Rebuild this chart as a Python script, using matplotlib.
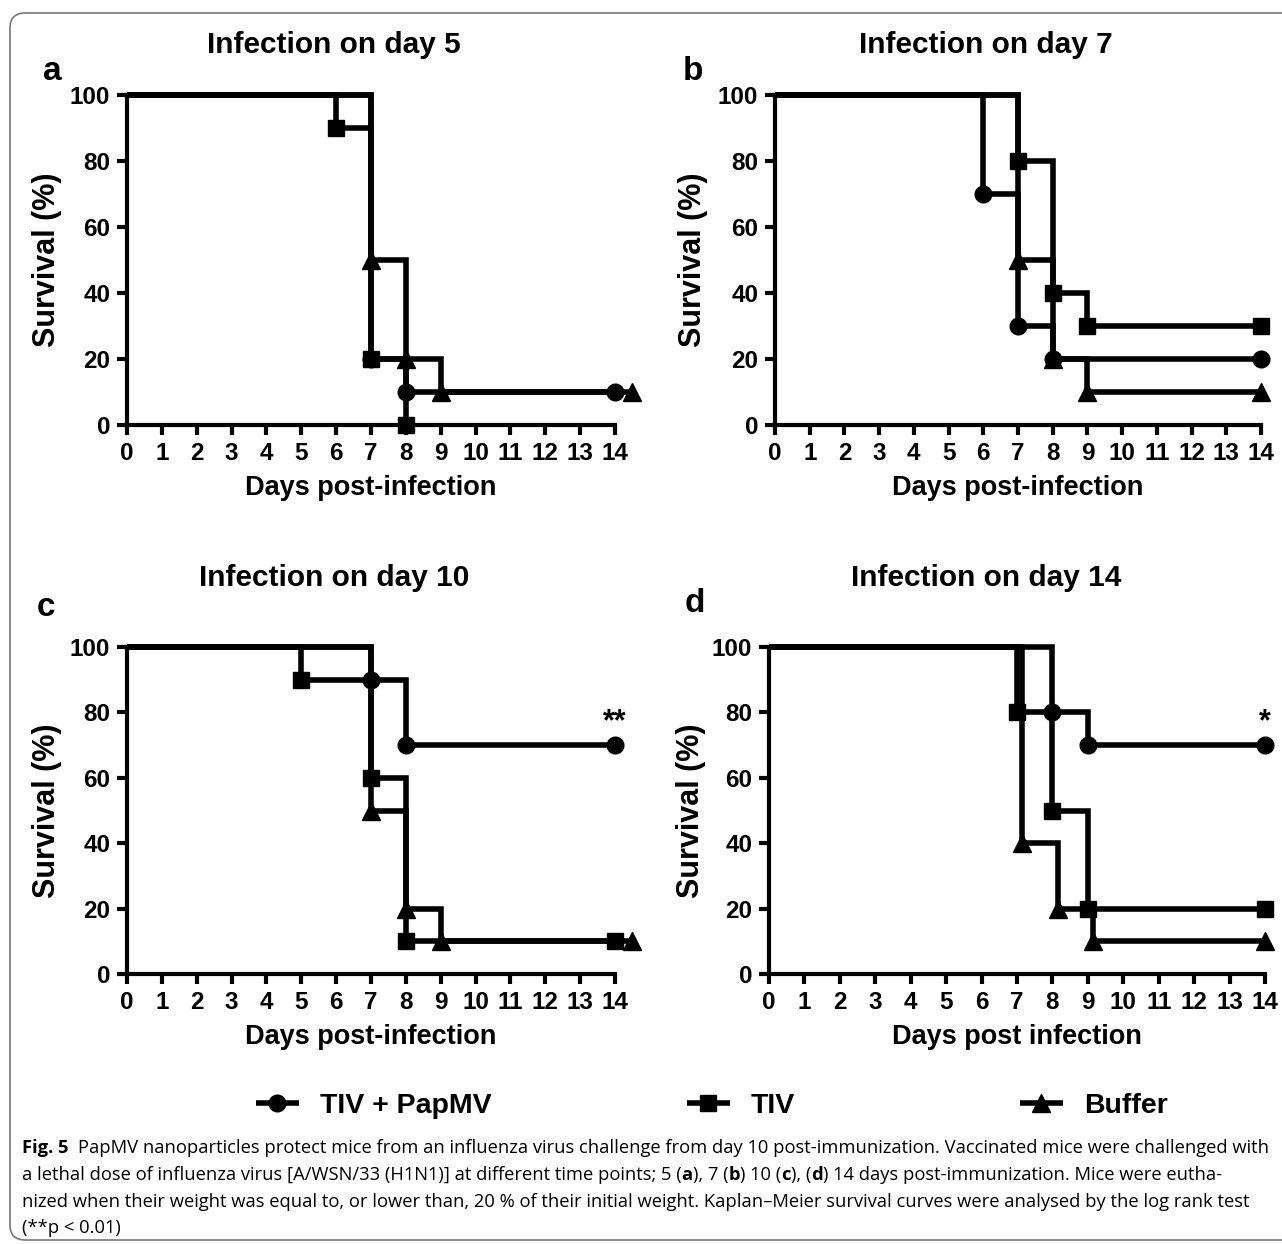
import numpy as np

import matplotlib
matplotlib.use('Agg')
import matplotlib.pyplot as plt
from matplotlib.patches import FancyBboxPatch

# figure size in pixels (dpi 100)
W, H = 1282, 1244

# ---- data: Kaplan-Meier steps ----
series_names = ['TIV + PapMV', 'TIV', 'Buffer']
panel_titles = ['Infection on day 5', 'Infection on day 7',
                'Infection on day 10', 'Infection on day 14']
panel_letters = ['a', 'b', 'c', 'd']
x_labels = ['Days post-infection', 'Days post-infection',
            'Days post-infection', 'Days post infection']
significance = ['', '', '**', '*']
x_ticks = list(range(0, 15))
y_ticks = [0, 20, 40, 60, 80, 100]

# day 5
a_papmv_days = [0, 7, 8, 14]
a_papmv_surv = [100, 20, 10, 10]
a_tiv_days = [0, 6, 7, 8]
a_tiv_surv = [100, 90, 20, 0]
a_buf_days = [0, 7, 8, 9, 14.5]
a_buf_surv = [100, 50, 20, 10, 10]

# day 7
b_papmv_days = [0, 6, 7, 8, 14]
b_papmv_surv = [100, 70, 30, 20, 20]
b_tiv_days = [0, 7, 8, 9, 14]
b_tiv_surv = [100, 80, 40, 30, 30]
b_buf_days = [0, 7, 8, 9, 14]
b_buf_surv = [100, 50, 20, 10, 10]

# day 10
c_papmv_days = [0, 7, 8, 14]
c_papmv_surv = [100, 90, 70, 70]
c_tiv_days = [0, 5, 7, 8, 14]
c_tiv_surv = [100, 90, 60, 10, 10]
c_buf_days = [0, 7, 8, 9, 14.5]
c_buf_surv = [100, 50, 20, 10, 10]

# day 14
d_papmv_days = [0, 8, 9, 14]
d_papmv_surv = [100, 80, 70, 70]
d_tiv_days = [0, 7, 8, 9, 14]
d_tiv_surv = [100, 80, 50, 20, 20]
d_buf_days = [0, 7.15, 8.15, 9.15, 14]
d_buf_surv = [100, 40, 20, 10, 10]

panels = [
    [(a_papmv_days, a_papmv_surv), (a_tiv_days, a_tiv_surv), (a_buf_days, a_buf_surv)],
    [(b_papmv_days, b_papmv_surv), (b_tiv_days, b_tiv_surv), (b_buf_days, b_buf_surv)],
    [(c_papmv_days, c_papmv_surv), (c_tiv_days, c_tiv_surv), (c_buf_days, c_buf_surv)],
    [(d_papmv_days, d_papmv_surv), (d_tiv_days, d_tiv_surv), (d_buf_days, d_buf_surv)],
]

caption_lines = [
    [("Fig. 5", 'bold'), ("PapMV nanoparticles protect mice from an influenza virus challenge from day 10 "
                         "post-immunization. Vaccinated mice were challenged with", 'normal')],
    [("a lethal dose of influenza virus [A/WSN/33 (H1N1)] at different time points; 5 (", 'normal'),
     ("a", 'bold'), ("), 7 (", 'normal'), ("b", 'bold'), (") 10 (", 'normal'), ("c", 'bold'),
     ("), (", 'normal'), ("d", 'bold'), (") 14 days post-immunization. Mice were eutha-", 'normal')],
    [("nized when their weight was equal to, or lower than, 20 % of their initial weight. "
      "Kaplan\u2013Meier survival curves were analysed by the log rank test", 'normal')],
    [("(**p < 0.01)", 'normal')],
]

# ---- layout (pixel boxes: left, right, top(100%), bottom(0%)) ----
axes_px = [(127, 615, 95, 425), (775, 1261, 95, 425),
           (127, 615, 647, 974), (769, 1265, 647, 974)]
title_px = [(334, 45), (986, 45), (334, 578), (986, 578)]
letter_px = [(52, 72), (693, 72), (46, 608), (695, 604)]
ylabel_x = [47, 693, 47, 691]

markers = ['o', 's', '^']
msizes = [12, 12, 13]

plt.rcParams['font.family'] = ['Liberation Sans', 'DejaVu Sans']
plt.rcParams['font.weight'] = 'bold'

fig = plt.figure(figsize=(W / 100, H / 100), dpi=100)


def fx(x):
    return x / W


def fy(y):
    return 1 - y / H


lines_for_legend = None
for i, (l, r, t, b) in enumerate(axes_px):
    ax = fig.add_axes([fx(l), fy(b), (r - l) / W, (b - t) / H])
    handles = []
    for j, (days, surv) in enumerate(panels[i]):
        ln, = ax.plot(days, surv, drawstyle='steps-post', color='black', lw=4,
                      marker=markers[j], ms=msizes[j], markevery=slice(1, None),
                      solid_joinstyle='miter', solid_capstyle='butt',
                      clip_on=False, zorder=3 + j)
        handles.append(ln)
    if lines_for_legend is None:
        lines_for_legend = handles

    ax.set_xlim(0, 14)
    ax.set_ylim(0, 100)
    ax.set_xticks(x_ticks)
    ax.set_yticks(y_ticks)
    for side in ['top', 'right']:
        ax.spines[side].set_visible(False)
    for side in ['left', 'bottom']:
        ax.spines[side].set_linewidth(3)
    ax.tick_params(width=3, length=7, labelsize=17.5, pad=5)
    for lab in ax.get_xticklabels() + ax.get_yticklabels():
        lab.set_fontweight('bold')

    ax.set_xlabel(x_labels[i], fontsize=19.5, fontweight='bold')
    ax.xaxis.set_label_coords(0.5, -63 / (b - t))
    ax.xaxis.label.set_va('center')
    ax.set_ylabel('Survival (%)', fontsize=22, fontweight='bold')
    ax.yaxis.set_label_coords((ylabel_x[i] - l) / (r - l), 0.5)
    ax.yaxis.label.set_va('center')

    if significance[i]:
        ax.text(14, 77, significance[i], ha='center', va='center',
                fontsize=22, fontweight='bold')

    fig.text(fx(title_px[i][0]), fy(title_px[i][1]), panel_titles[i],
             ha='center', va='center', fontsize=21.5, fontweight='bold')
    fig.text(fx(letter_px[i][0]), fy(letter_px[i][1]), panel_letters[i],
             ha='center', va='center', fontsize=24, fontweight='bold')

# legend, one entry per group
legend_x = [256, 687, 1020]
for k in range(3):
    leg = fig.legend([lines_for_legend[k]], [series_names[k]], loc='center left',
                     bbox_to_anchor=(fx(legend_x[k]), fy(1106)), frameon=False,
                     handlelength=1.5, handletextpad=0.75, borderpad=0, borderaxespad=0,
                     prop={'size': 20.5, 'weight': 'bold'})

# caption, fitted to the width of the first line
renderer = fig.canvas.get_renderer()


def draw_caption_line(segments, y, size, gap_first=0):
    x = 22
    texts = []
    for n, (s, w) in enumerate(segments):
        t = fig.text(fx(x), fy(y), s, ha='left', va='center', fontsize=size,
                     fontweight=w, family=['Open Sans', 'DejaVu Sans'])
        texts.append(t)
        x += t.get_window_extent(renderer).width
        if n == 0 and gap_first:
            x += gap_first
    return texts, x


trial, end_x = draw_caption_line(caption_lines[0], 1149, 12, gap_first=9)
for t in trial:
    t.remove()
cap_size = 12 * (1262 - 22 - 9) / (end_x - 22 - 9)

caption_y = [1148, 1175, 1202, 1228]
for n, segs in enumerate(caption_lines):
    draw_caption_line(segs, caption_y[n], cap_size, gap_first=9 if n == 0 else 0)

# rounded frame
frame = FancyBboxPatch((fx(10), fy(1240)), fx(1300) - fx(10), fy(13) - fy(1240),
                       boxstyle='round,pad=0,rounding_size=0.012',
                       transform=fig.transFigure, fill=False, edgecolor='#777777',
                       linewidth=1.2)
fig.patches.append(frame)

fig.savefig('out.png', dpi=100)
